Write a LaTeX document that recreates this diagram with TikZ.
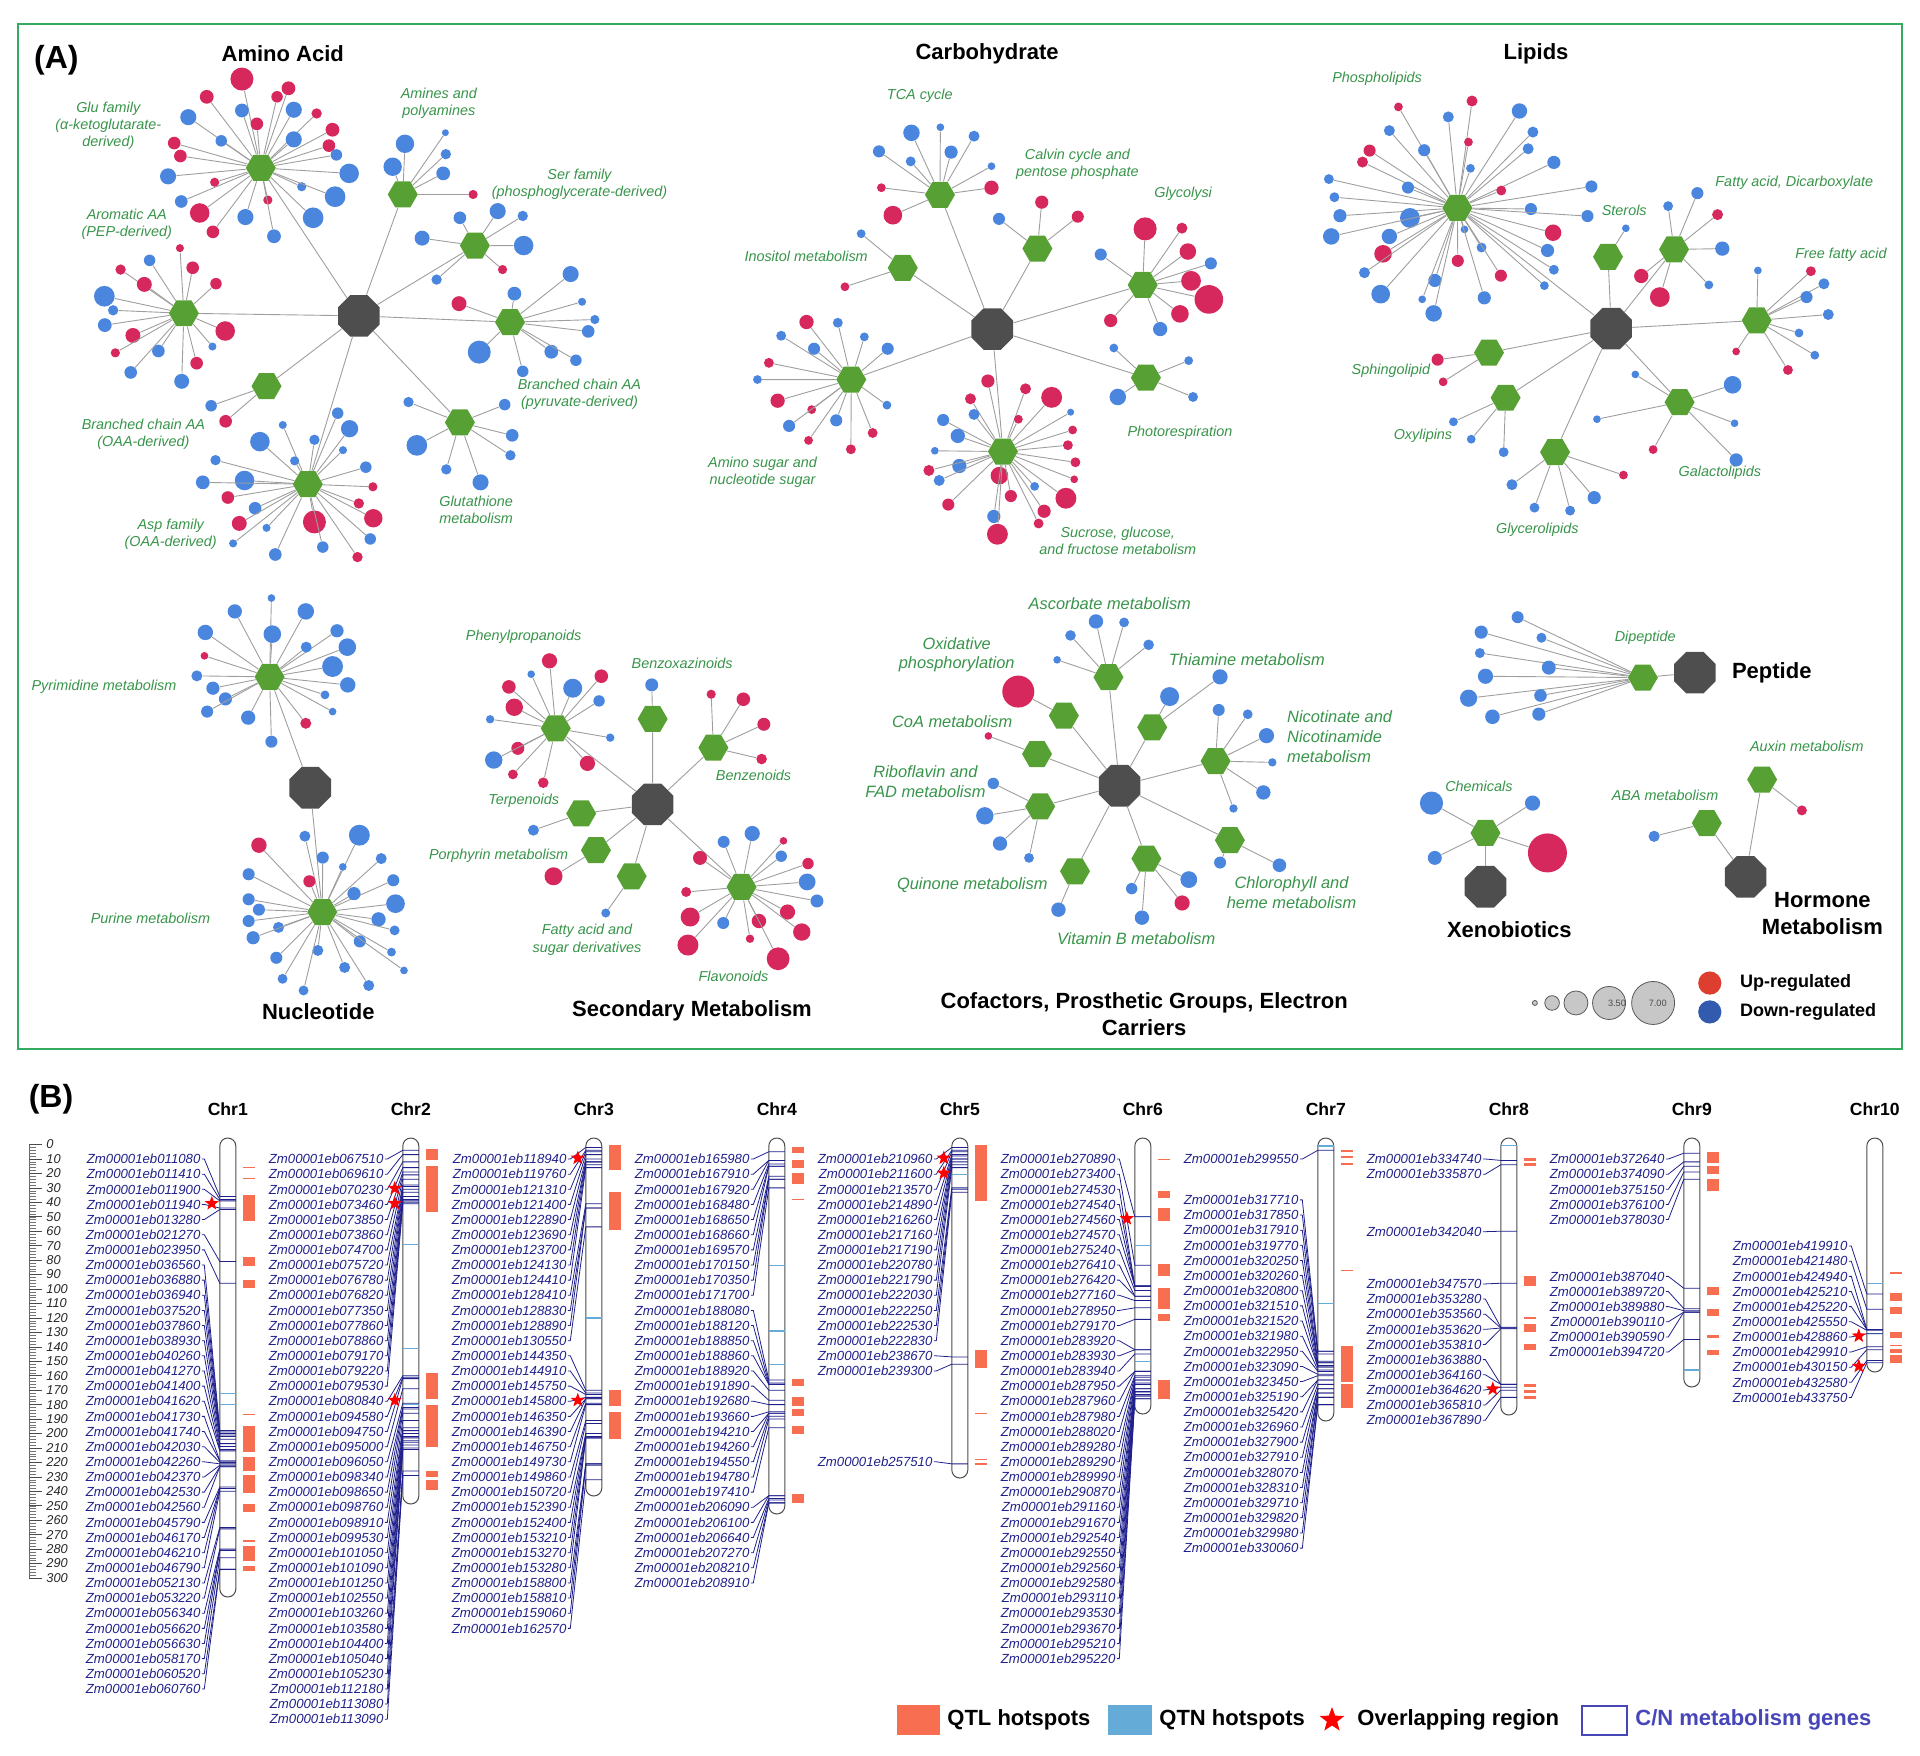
\documentclass[tikz,border=0pt]{standalone}
\usepackage{fontspec}
\setmainfont{Liberation Sans}
\usetikzlibrary{shapes.geometric}

\definecolor{upc}{RGB}{214,40,92}
\definecolor{dnc}{RGB}{74,134,222}
\definecolor{hexg}{RGB}{86,160,52}
\definecolor{hubg}{RGB}{78,78,78}
\definecolor{labg}{RGB}{56,148,74}
\definecolor{frameg}{RGB}{52,172,96}
\definecolor{navy}{RGB}{32,32,140}
\definecolor{qtlc}{RGB}{247,110,80}
\definecolor{qtnc}{RGB}{100,172,215}
\definecolor{uplg}{RGB}{222,62,48}
\definecolor{dnlg}{RGB}{50,90,175}
\definecolor{cng}{RGB}{70,70,185}

\begin{document}
\begin{tikzpicture}[x=0.5pt, y=-0.5pt,
  hub/.style={regular polygon, regular polygon sides=8, minimum size=22.5pt, inner sep=0pt, fill=hubg},
  hexa/.style={regular polygon, regular polygon sides=6, minimum size=15pt, inner sep=0pt, fill=hexg},
  leaf/.style={circle, inner sep=0pt, minimum size=#1*1pt},
  eg/.style={draw=black!38, line width=0.45pt},
  lab/.style={text=labg, font=\fontsize{7.2}{8.6}\selectfont\itshape, align=center, inner sep=1pt},
  blab/.style={text=labg, font=\fontsize{8.2}{9.8}\selectfont\itshape, align=center, inner sep=1pt},
  ttl/.style={font=\fontsize{11}{13.4}\selectfont\bfseries, align=center, inner sep=1pt},
  panel/.style={font=\fontsize{16}{18}\selectfont\bfseries, inner sep=0pt},
  chrom/.style={draw=black!70, fill=white, line width=0.5pt, rounded corners=4pt},
  chrname/.style={font=\fontsize{8.8}{10}\selectfont\bfseries, inner sep=0pt},
  gname/.style={anchor=east, text=navy, font=\fontsize{6.6}{7}\selectfont\itshape, inner sep=0.5pt},
  glink/.style={draw=navy, line width=0.4pt},
  qtn/.style={draw=qtnc, line width=0.6pt},
  ovl/.style={star, star points=5, star point ratio=2.4, fill=red, inner sep=0pt, minimum size=7.5pt},
  num/.style={anchor=west, font=\fontsize{6.4}{7}\selectfont\itshape, text=black!85, inner sep=0pt},
  lgt/.style={anchor=west, font=\fontsize{11}{13}\selectfont\bfseries, inner sep=0pt}]
\useasboundingbox (0,0) rectangle (1920,1755);

% ---------------- panel A ----------------
\draw[frameg, line width=1pt] (18,24) rectangle (1902,1049);

% amino acid
\begin{scope}[shift={(3.7,-0.5)}, xscale=0.4395, yscale=0.37]
  \node[panel] (pa) at (120,165) {(A)};
  \node[ttl] (t-aa) at (635,145) {Amino Acid};
  \node[hub] (aa) at (808,855) {};
  \node[hexa] (glu) at (585,455) {};
  \node[hexa] (amin) at (908,527) {};
  \node[hexa] (ser) at (1072,665) {};
  \node[hexa] (bcp) at (1152,872) {};
  \node[hexa] (gsh) at (1038,1143) {};
  \node[hexa] (asp) at (692,1310) {};
  \node[hexa] (bco) at (598,1045) {};
  \node[hexa] (aro) at (410,848) {};
  \foreach \h in {glu,amin,ser,bcp,gsh,asp,bco,aro} \draw[eg] (aa) -- (\h);
  \def\rf{1.15}
  \foreach \x/\y/\r/\c [count=\i] in {542/215/10/upc,462/263/6/upc,648/240/6/upc,622/263/5/upc,542/300/6/dnc,660/298/7/dnc,712/308/4.5/upc,420/318/7/dnc,576/336/5.5/upc,748/352/6/upc,495/382/5/dnc,660/378/7/dnc,740/395/5.5/upc,388/388/5.5/upc,402/423/5.5/upc,757/420/5/dnc,374/478/7/dnc,786/470/8.5/dnc,480/494/4/upc,678/506/4/dnc,404/546/5.5/dnc,754/533/9/dnc,601/542/4/upc,446/577/8.5/upc,550/588/7/dnc,704/590/9/dnc,476/628/5.5/upc,615/640/6/dnc}
    \node[leaf={\r*\rf}, fill=\c] (glu-\i) at (\x,\y) {} edge[eg] (glu);
  \foreach \x/\y/\r/\c [count=\i] in {913/390/8/dnc,885/452/8/dnc,1005/360/3/dnc,1006/418/4.5/dnc,1000/470/6/dnc,1068/527/4/upc}
    \node[leaf={\r*\rf}, fill=\c] (amin-\i) at (\x,\y) {} edge[eg] (amin);
  \foreach \x/\y/\r/\c [count=\i] in {1124/572/7/dnc,1038/590/5.5/dnc,1181/585/4.5/dnc,952/645/6.5/dnc,1183/665/8.5/dnc,985/757/4.5/dnc,1135/730/4/upc}
    \node[leaf={\r*\rf}, fill=\c] (ser-\i) at (\x,\y) {} edge[eg] (ser);
  \foreach \x/\y/\r/\c [count=\i] in {401/672/3.5/upc,332/705/5/dnc,266/730/4.5/upc,430/725/5.5/upc,320/770/6.5/upc,483/768/5/upc,229/802/9/dnc,249/840/4.5/dnc,504/896/8.5/upc,230/880/6/dnc,294/908/6.5/upc,254/955/4/upc,475/938/3.5/dnc,352/950/5.5/dnc,439/983/5.5/upc,289/1008/5.5/dnc,405/1032/6.5/dnc}
    \node[leaf={\r*\rf}, fill=\c] (aro-\i) at (\x,\y) {} edge[eg] (aro);
  \foreach \x/\y/\r/\c [count=\i] in {1290/742/7/dnc,1162/795/6/dnc,1036/822/6.5/upc,1316/817/3.5/dnc,1345/865/4/dnc,1330/897/5.5/dnc,1082/953/10/dnc,1246/952/6/dnc,1302/975/5/dnc,1181/1005/5/dnc}
    \node[leaf={\r*\rf}, fill=\c] (bcp-\i) at (\x,\y) {} edge[eg] (bcp);
  \foreach \x/\y/\r/\c [count=\i] in {472/1098/5/dnc,505/1140/5.5/upc}
    \node[leaf={\r*\rf}, fill=\c] (bco-\i) at (\x,\y) {} edge[eg] (bco);
  \foreach \x/\y/\r/\c [count=\i] in {921/1088/4.5/dnc,1140/1095/5/dnc,940/1205/9/dnc,1157/1178/5.5/dnc,1153/1232/4.5/dnc,1007/1270/4.5/dnc,1085/1305/7/dnc}
    \node[leaf={\r*\rf}, fill=\c] (gsh-\i) at (\x,\y) {} edge[eg] (gsh);
  \foreach \x/\y/\r/\c [count=\i] in {760/1118/5/dnc,635/1150/3.5/dnc,787/1160/7.5/dnc,583/1195/8.5/dnc,707/1190/4.5/dnc,772/1218/3.5/dnc,662/1247/4/dnc,482/1245/4.5/dnc,824/1264/5/dnc,548/1300/8.5/dnc,453/1305/6/dnc,840/1317/4/upc,510/1346/5.5/upc,572/1375/5.5/dnc,808/1362/4.5/upc,841/1402/8/upc,536/1416/6.5/upc,707/1412/10/upc,598/1428/3.5/dnc,834/1458/5/dnc,522/1470/3.5/dnc,726/1480/5/dnc,618/1500/5.5/dnc,805/1507/4.5/upc}
    \node[leaf={\r*\rf}, fill=\c] (asp-\i) at (\x,\y) {} edge[eg] (asp);
  \node[lab] (t-glu) at (238,342) {Glu family\\(α-ketoglutarate-\\derived)};
  \node[lab] (t-amin) at (990,280) {Amines and\\polyamines};
  \node[lab] (t-ser) at (1310,500) {Ser family\\(phosphoglycerate-derived)};
  \node[lab] (t-aro) at (280,608) {Aromatic AA\\(PEP-derived)};
  \node[lab] (t-bcp) at (1310,1068) {Branched chain AA\\(pyruvate-derived)};
  \node[lab] (t-bco) at (318,1175) {Branched chain AA\\(OAA-derived)};
  \node[lab] (t-gsh) at (1075,1380) {Glutathione\\metabolism};
  \node[lab] (t-asp) at (380,1446) {Asp family\\(OAA-derived)};
\end{scope}

% carbohydrate
\begin{scope}[shift={(700,0)}, xscale=0.396, yscale=0.371]
  \node[ttl] (t-carb) at (725,145) {Carbohydrate};
  \node[hub] (carb) at (738,887) {};
  \node[hexa] (tca) at (606,525) {};
  \node[hexa] (calv) at (852,670) {};
  \node[hexa] (ino) at (512,722) {};
  \node[hexa] (glyc) at (1118,768) {};
  \node[hexa] (phot) at (1126,1018) {};
  \node[hexa] (amsu) at (382,1023) {};
  \node[hexa] (sucr) at (765,1217) {};
  \foreach \h in {tca,calv,ino,glyc,phot,amsu,sucr} \draw[eg] (carb) -- (\h);
  \def\rf{1.1}
  \foreach \x/\y/\r/\c [count=\i] in {534/358/7.5/dnc,607/343/3.5/dnc,692/367/5/dnc,452/408/5.5/dnc,634/410/6/dnc,532/435/4.5/dnc,736/448/3.5/dnc,458/506/4/upc,736/506/6.5/upc,487/580/8.5/upc}
    \node[leaf={\r*\rf}, fill=\c] (tca-\i) at (\x,\y) {} edge[eg] (tca);
  \foreach \x/\y/\r/\c [count=\i] in {863/545/6/upc,755/590/5.5/dnc,954/584/5.5/upc}
    \node[leaf={\r*\rf}, fill=\c] (calv-\i) at (\x,\y) {} edge[eg] (calv);
  \foreach \x/\y/\r/\c [count=\i] in {407/630/4/dnc,366/773/4/upc}
    \node[leaf={\r*\rf}, fill=\c] (ino-\i) at (\x,\y) {} edge[eg] (ino);
  \foreach \x/\y/\r/\c [count=\i] in {1124/617/10.5/upc,1012/686/5.5/dnc,1217/615/5/upc,1232/678/7.5/upc,1290/710/5.5/dnc,1240/757/9/upc,1285/807/13/upc,1037/864/6/upc,1212/846/8/upc,1162/887/6.5/dnc}
    \node[leaf={\r*\rf}, fill=\c] (glyc-\i) at (\x,\y) {} edge[eg] (glyc);
  \foreach \x/\y/\r/\c [count=\i] in {1045/938/4/dnc,1234/972/4/dnc,1055/1070/7.5/dnc,1245/1070/4.5/dnc}
    \node[leaf={\r*\rf}, fill=\c] (phot-\i) at (\x,\y) {} edge[eg] (phot);
  \foreach \x/\y/\r/\c [count=\i] in {269/868/6.5/upc,348/870/4.5/dnc,205/905/4.5/dnc,415/908/4/dnc,288/940/5.5/dnc,474/940/5.5/dnc,174/978/4.5/upc,145/1023/4/dnc,196/1080/6.5/upc,282/1104/4/upc,472/1092/4/dnc,225/1148/5.5/dnc,344/1133/5.5/dnc,436/1167/4.5/upc,274/1187/4/upc,381/1211/4.5/upc}
    \node[leaf={\r*\rf}, fill=\c] (amsu-\i) at (\x,\y) {} edge[eg] (amsu);
  \foreach \x/\y/\r/\c [count=\i] in {727/1027/6/upc,822/1048/5/upc,888/1071/9.5/upc,683/1075/5/upc,692/1117/5/dnc,804/1130/4/upc,614/1132/5.5/dnc,936/1111/3.2/dnc,651/1175/6.5/dnc,941/1159/4/upc,593/1215/3.5/dnc,929/1200/4.5/upc,655/1256/6.5/dnc,948/1246/4.5/upc,578/1268/5/upc,756/1282/8/upc,945/1292/3.5/upc,604/1295/5/dnc,845/1311/4/dnc,785/1337/5.5/upc,924/1343/9.5/upc,627/1360/5.5/upc,869/1378/6/upc,742/1392/6/dnc,855/1411/4.5/upc,751/1440/9.5/upc}
    \node[leaf={\r*\rf}, fill=\c] (sucr-\i) at (\x,\y) {} edge[eg] (sucr);
  \node[lab] (t-tca) at (555,258) {TCA cycle};
  \node[lab] (t-calv) at (953,442) {Calvin cycle and\\pentose phosphate};
  \node[lab] (t-ino) at (268,692) {Inositol metabolism};
  \node[lab] (t-glyc) at (1220,522) {Glycolysi};
  \node[lab] (t-phot) at (1212,1167) {Photorespiration};
  \node[lab] (t-amsu) at (158,1272) {Amino sugar and\\nucleotide sugar};
  \node[lab] (t-sucr) at (1055,1457) {Sucrose, glucose,\\and fructose metabolism};
\end{scope}

% lipids
\begin{scope}[shift={(1300,0)}, xscale=0.3954, yscale=0.37]
  \node[ttl] (t-lip) at (597,145) {Lipids};
  \node[hub] (lip) at (787,888) {};
  \node[hexa] (phos) at (398,562) {};
  \node[hexa] (ster) at (779,694) {};
  \node[hexa] (fadc) at (946,674) {};
  \node[hexa] (ffa) at (1155,866) {};
  \node[hexa] (sphi) at (478,953) {};
  \node[hexa] (oxyl) at (520,1075) {};
  \node[hexa] (gala) at (960,1087) {};
  \node[hexa] (glyl) at (645,1222) {};
  \foreach \h in {phos,ster,fadc,ffa,sphi,oxyl,gala,glyl} \draw[eg] (lip) -- (\h);
  \def\rf{1.1}
  \foreach \x/\y/\r/\c [count=\i] in {249/289/4/upc,435/273/5/upc,375/316/5/dnc,555/300/7/dnc,226/353/5/dnc,589/357/5/dnc,426/384/4/upc,314/406/5.5/dnc,176/407/5.5/upc,577/402/5/dnc,158/438/5/upc,642/439/6/dnc,431/455/4/dnc,73/484/4.5/dnc,273/507/5.5/dnc,509/515/4.5/upc,737/504/5.5/dnc,87/533/4.5/dnc,584/565/5.5/dnc,101/583/6/dnc,278/589/9/dnc,727/584/5.5/dnc,640/629/7.5/upc,79/639/7.5/dnc,226/639/7/dnc,416/620/3.5/dnc,459/669/4.5/dnc,626/677/6/dnc,210/686/8/upc,399/705/5.5/upc,642/729/4.5/dnc,163/737/5/dnc,508/745/5.5/upc,341/758/6/dnc,618/772/4/dnc,204/795/8.5/dnc,309/809/3.5/dnc,466/805/6/dnc,338/847/7.5/dnc}
    \node[leaf={\r*\rf}, fill=\c] (phos-\i) at (\x,\y) {} edge[eg] (phos);
  \node[leaf={3.5*\rf}, fill=dnc] (ster-1) at (824,617) {} edge[eg] (ster);
  \foreach \x/\y/\r/\c [count=\i] in {931/557/4.5/dnc,1005/522/5.5/dnc,1056/580/5/upc,1068/672/6.5/dnc,863/746/6.5/upc,910/803/9/upc,1034/770/4/dnc}
    \node[leaf={\r*\rf}, fill=\c] (fadc-\i) at (\x,\y) {} edge[eg] (fadc);
  \foreach \x/\y/\r/\c [count=\i] in {1158/731/3.5/dnc,1292/733/4.5/upc,1325/767/5/dnc,1281/803/5.5/dnc,1336/850/5/dnc,1262/900/4/dnc,1103/950/3.5/upc,1302/960/4/dnc,1234/1000/4.5/upc}
    \node[leaf={\r*\rf}, fill=\c] (ffa-\i) at (\x,\y) {} edge[eg] (ffa);
  \foreach \x/\y/\r/\c [count=\i] in {348/972/5.5/upc,362/1032/4/upc}
    \node[leaf={\r*\rf}, fill=\c] (sphi-\i) at (\x,\y) {} edge[eg] (sphi);
  \foreach \x/\y/\r/\c [count=\i] in {388/1140/4/dnc,433/1187/4/dnc,515/1222/4.5/dnc}
    \node[leaf={\r*\rf}, fill=\c] (oxyl-\i) at (\x,\y) {} edge[eg] (oxyl);
  \foreach \x/\y/\r/\c [count=\i] in {848/1012/3.5/dnc,1094/1040/8/dnc,751/1133/3.5/dnc,1099/1144/3.5/dnc,893/1215/4/upc,1103/1243/6/dnc}
    \node[leaf={\r*\rf}, fill=\c] (gala-\i) at (\x,\y) {} edge[eg] (gala);
  \foreach \x/\y/\r/\c [count=\i] in {818/1284/4/upc,536/1310/5/dnc,744/1345/6/dnc,593/1372/4.5/dnc,683/1380/4.5/dnc}
    \node[leaf={\r*\rf}, fill=\c] (glyl-\i) at (\x,\y) {} edge[eg] (glyl);
  \node[lab] (t-phos) at (195,214) {Phospholipids};
  \node[lab] (t-ster) at (820,568) {Sterols};
  \node[lab] (t-fadc) at (1250,494) {Fatty acid, Dicarboxylate};
  \node[lab] (t-ffa) at (1368,688) {Free fatty acid};
  \node[lab] (t-sphi) at (230,1002) {Sphingolipid};
  \node[lab] (t-oxyl) at (311,1178) {Oxylipins};
  \node[lab] (t-gala) at (1062,1278) {Galactolipids};
  \node[lab] (t-glyl) at (600,1432) {Glycerolipids};
\end{scope}

% nucleotide and secondary metabolism
\begin{scope}[shift={(0,578)}, xscale=0.4464, yscale=0.334]
  \node[ttl] (t-nuc) at (713,1297) {Nucleotide};
  \node[hub] (nuc) at (695,628) {};
  \node[hexa] (pyri) at (604,296) {};
  \node[hexa] (puri) at (722,1000) {};
  \draw[eg] (nuc) -- (pyri) (nuc) -- (puri);
  \def\rf{1.1}
  \foreach \x/\y/\r/\c [count=\i] in {608/60/3.5/dnc,526/100/6.5/dnc,685/100/7.5/dnc,460/163/7/dnc,610/168/8/dnc,755/158/6/dnc,778/207/8/dnc,686/207/5/dnc,458/233/3.5/upc,745/265/9.5/dnc,441/293/5/dnc,779/320/7/dnc,477/330/6/dnc,505/362/6/dnc,728/350/4/dnc,464/400/5.5/dnc,556/418/6.5/dnc,745/400/3.5/dnc,685/435/5/upc,608/490/5.5/dnc}
    \node[leaf={\r*\rf}, fill=\c] (pyri-\i) at (\x,\y) {} edge[eg] (pyri);
  \foreach \x/\y/\r/\c [count=\i] in {580/800/7/upc,683/773/5/dnc,805/770/9.5/dnc,723/837/5.5/dnc,854/840/5/dnc,768/865/3.5/dnc,557/887/5.5/dnc,693/908/5.5/upc,881/905/5.5/dnc,793/945/6/dnc,557/962/5.5/dnc,886/975/8.5/dnc,580/993/5.5/dnc,557/1027/5.5/dnc,624/1046/5/dnc,848/1022/6.5/dnc,884/1055/4.5/dnc,567/1077/6/dnc,806/1088/5.5/dnc,712/1115/5/dnc,877/1120/4/dnc,619/1137/5.5/dnc,772/1166/5/dnc,905/1175/3.5/dnc,633/1200/4.5/dnc,826/1220/5/dnc,680/1235/4.5/dnc}
    \node[leaf={\r*\rf}, fill=\c] (puri-\i) at (\x,\y) {} edge[eg] (puri);
  \node[lab] (t-pyri) at (233,325) {Pyrimidine metabolism};
  \node[lab] (t-puri) at (337,1020) {Purine metabolism};
  % secondary metabolism
  \node[hub] (sec) at (1462,678) {};
  \node[hexa] (phen) at (1245,450) {};
  \node[hexa] (benx) at (1462,422) {};
  \node[hexa] (terp) at (1302,705) {};
  \node[hexa] (porp) at (1335,815) {};
  \node[hexa] (fasd) at (1415,893) {};
  \foreach \h in {phen,benx,terp,porp,fasd} \draw[eg] (sec) -- (\h);
  \foreach \x/\y/\r/\c [count=\i] in {1231/248/7.6/upc,1190/288/3.8/dnc,1347/294/6.8/upc,1140/326/6.8/upc,1283/330/9.5/dnc,1152/387/8.7/upc,1342/368/5.7/dnc,1098/423/4.2/dnc,1367/478/4.2/dnc,1160/510/6.5/upc,1106/545/8.7/dnc,1316/555/7.6/upc,1149/588/4.9/upc,1217/613/5.3/upc}
    \node[leaf=\r, fill=\c] (phen-\i) at (\x,\y) {} edge[eg] (phen);
  \node[leaf=6.5, fill=dnc] (benx-1) at (1460,320) {} edge[eg] (benx);
  \node[leaf=5.5, fill=dnc] (terp-1) at (1195,755) {} edge[eg] (terp);
  \node[leaf=9, fill=upc] (porp-1) at (1240,893) {} edge[eg] (porp);
  \node[leaf=4.5, fill=dnc] (fasd-1) at (1357,1003) {} edge[eg] (fasd);
  \node[lab] (t-phen) at (1173,175) {Phenylpropanoids};
  \node[lab] (t-benx) at (1528,257) {Benzoxazinoids};
  \node[lab] (t-terp) at (1173,668) {Terpenoids};
  \node[lab] (t-porp) at (1117,831) {Porphyrin metabolism};
  \node[lab] (t-fasd) at (1315,1083) {Fatty acid and\\sugar derivatives};
\end{scope}
\node[ttl] (t-sec) at (692,1011) {Secondary Metabolism};

% cofactors
\begin{scope}[shift={(700,578)}, xscale=0.4464, yscale=0.334]
  \node[hexa] (benz) at (30,508) {};
  \node[hexa] (flav) at (93,925) {};
  \draw[eg] (sec) -- (benz) (sec) -- (flav);
  \foreach \x/\y/\r/\c [count=\i] in {25/348/4.6/upc,97/363/6.8/upc,143/438/6.5/upc,138/542/5.3/upc}
    \node[leaf=\r, fill=\c] (benz-\i) at (\x,\y) {} edge[eg] (benz);
  \foreach \x/\y/\r/\c [count=\i] in {117/765/7.6/dnc,53/790/6/dnc,187/787/3.8/upc,182/833/5.7/dnc,242/855/5.7/upc,240/910/8.4/dnc,262/967/6.5/dnc,196/1000/7.6/upc,132/1027/7.2/upc,52/1033/6/dnc,228/1060/8.7/upc,112/1080/4.2/upc,175/1140/11.4/upc,0/838/7/upc,-31/940/5/upc,-22/1015/9.5/upc,-27/1099/10.5/upc}
    \node[leaf=\r, fill=\c] (flav-\i) at (\x,\y) {} edge[eg] (flav);
  \node[lab] (t-benz) at (120,592) {Benzenoids};
  \node[lab] (t-flav) at (75,1193) {Flavonoids};
  \node[ttl] (t-cof) at (995,1305) {Cofactors, Prosthetic Groups, Electron\\Carriers};
  \node[hub] (cof) at (940,622) {};
  \node[hexa] (asco) at (915,297) {};
  \node[hexa] (thia) at (1013,447) {};
  \node[hexa] (nico) at (1155,548) {};
  \node[hexa] (chlo) at (1187,785) {};
  \node[hexa] (vitb) at (1000,840) {};
  \node[hexa] (quin) at (840,878) {};
  \node[hexa] (ribo) at (762,684) {};
  \node[hexa] (coa) at (755,527) {};
  \node[hexa] (oxph) at (815,412) {};
  \foreach \h in {asco,thia,nico,chlo,vitb,quin,ribo,coa,oxph} \draw[eg] (cof) -- (\h);
  \foreach \x/\y/\r/\c [count=\i] in {887/130/7.2/dnc,950/133/4.9/dnc,830/172/5.3/dnc,1005/200/5.3/dnc,800/245/3.8/dnc}
    \node[leaf=\r, fill=\c] (asco-\i) at (\x,\y) {} edge[eg] (asco);
  \foreach \x/\y/\r/\c [count=\i] in {1052/355/9.5/dnc,1165/296/7.6/dnc}
    \node[leaf=\r, fill=\c] (thia-\i) at (\x,\y) {} edge[eg] (thia);
  \foreach \x/\y/\r/\c [count=\i] in {1162/395/6/dnc,1227/408/4.9/dnc,1269/472/7.6/dnc,1282/552/4.2/dnc,1262/642/7.2/dnc,1195/690/4.2/dnc}
    \node[leaf=\r, fill=\c] (nico-\i) at (\x,\y) {} edge[eg] (nico);
  \foreach \x/\y/\r/\c [count=\i] in {1165/852/6/dnc,1298/860/6.8/dnc}
    \node[leaf=\r, fill=\c] (chlo-\i) at (\x,\y) {} edge[eg] (chlo);
  \foreach \x/\y/\r/\c [count=\i] in {1095/903/8.4/dnc,967/930/5.7/dnc,1080/973/7.6/upc,990/1017/7.2/dnc}
    \node[leaf=\r, fill=\c] (vitb-\i) at (\x,\y) {} edge[eg] (vitb);
  \node[leaf=7.2, fill=dnc] (quin-1) at (803,993) {} edge[eg] (quin);
  \foreach \x/\y/\r/\c [count=\i] in {657/615/5.7/dnc,638/712/8.7/dnc,672/795/7.2/dnc,737/838/4.9/dnc}
    \node[leaf=\r, fill=\c] (ribo-\i) at (\x,\y) {} edge[eg] (ribo);
  \node[leaf=3.8, fill=upc] (coa-1) at (646,473) {} edge[eg] (coa);
  \node[leaf=16, fill=upc] (oxph-1) at (713,340) {} edge[eg] (oxph);
  \node[blab] (t-asco) at (918,78) {Ascorbate metabolism};
  \node[blab] (t-oxph) at (575,230) {Oxidative\\phosphorylation};
  \node[blab] (t-thia) at (1225,243) {Thiamine metabolism};
  \node[blab] (t-coa) at (565,430) {CoA metabolism};
  \node[blab, anchor=west, align=left] (t-nico) at (1310,475) {Nicotinate and\\Nicotinamide\\metabolism};
  \node[blab] (t-ribo) at (505,610) {Riboflavin and\\FAD metabolism};
  \node[blab] (t-quin) at (610,918) {Quinone metabolism};
  \node[blab] (t-chlo) at (1325,942) {Chlorophyll and\\heme metabolism};
  \node[blab] (t-vitb) at (977,1080) {Vitamin B metabolism};
\end{scope}

% peptide, xenobiotics, hormone, legend
\begin{scope}[shift={(1400,578)}, xscale=0.3313, yscale=0.332]
  \node[hub] (pept) at (890,285) {};
  \node[hexa] (dipe) at (733,300) {};
  \draw[eg] (pept) -- (dipe);
  \foreach \x/\y/\r [count=\i] in {355/118/6,245/163/6.6,427/180/5,241/226/5,449/270/7,258/296/7.6,207/362/8.6,424/354/6.3,279/418/7.3,419/410/6.6}
    \node[leaf=\r, fill=dnc] (dipe-\i) at (\x,\y) {} edge[eg] (dipe);
  \node[hub] (xeno) at (258,930) {};
  \node[hexa] (chem) at (258,768) {};
  \draw[eg] (xeno) -- (chem);
  \foreach \x/\y/\r/\c [count=\i] in {95/678/11.6/dnc,400/678/7.6/dnc,105/843/7/dnc,445/828/19.5/upc}
    \node[leaf=\r, fill=\c] (chem-\i) at (\x,\y) {} edge[eg] (chem);
  \node[hub] (horm) at (1043,900) {};
  \node[hexa] (aba) at (926,738) {};
  \node[hexa] (auxi) at (1093,607) {};
  \draw[eg] (horm) -- (aba) (horm) -- (auxi);
  \node[leaf=5.6, fill=dnc] (aba-1) at (767,778) {} edge[eg] (aba);
  \node[leaf=5, fill=upc] (auxi-1) at (1213,700) {} edge[eg] (auxi);
  \node[lab] (t-dipe) at (740,180) {Dipeptide};
  \node[lab] (t-chem) at (238,628) {Chemicals};
  \node[lab] (t-aba) at (800,655) {ABA metabolism};
  \node[lab] (t-auxi) at (1228,508) {Auxin metabolism};
  \node[ttl, anchor=west] (t-pept) at (995,285) {Peptide};
  \node[ttl] (t-xeno) at (330,1060) {Xenobiotics};
  \node[ttl] (t-horm) at (1275,1010) {Hormone\\Metabolism};
  % size legend
  \foreach \x/\r [count=\i] in {407/2.5,459/7.3,531/12,631/16.5,764/21.5}
    \node[leaf=\r, fill=black!22, draw=black!65, line width=0.4pt] (sz\i) at (\x,1280) {};
  \node[font=\fontsize{4.6}{5}\selectfont, text=black!70] (sz-t4) at (655,1280) {3.50};
  \node[font=\fontsize{4.6}{5}\selectfont, text=black!70] (sz-t5) at (778,1280) {7.00};
  \node[leaf=11.6, fill=uplg] (up-l) at (935,1220) {};
  \node[leaf=11.6, fill=dnlg] (dn-l) at (935,1307) {};
  \node[anchor=west, font=\fontsize{9}{11}\selectfont\bfseries] (t-up) at (1005,1220) {Up-regulated};
  \node[anchor=west, font=\fontsize{9}{11}\selectfont\bfseries] (t-dn) at (1005,1307) {Down-regulated};
\end{scope}

% ---------------- panel B ----------------
\node[panel] (pb) at (51,1099) {(B)};
% scale bar
\draw[black!60, line width=0.3pt] (29,1144.5) -- (29,1578);
\foreach \v in {0,2,...,300} \draw[black!55, line width=0.25pt] (29,{1144.5+1.445*\v}) -- ++(7,0);
\foreach \v in {0,10,...,300} {
  \draw[black!70, line width=0.3pt] (29,{1144.5+1.445*\v}) -- ++(13,0);
  \node[num] (sc\v) at (46,{1144.5+1.445*\v}) {\v};
}
% chromosomes: number / centre / bottom / QTN / QTL / genes (id/row/position)
\foreach \k/\cx/\bot/\qtn/\qtl/\genes in {
1/227.8/1597/{172.5,180}/{15.5/16.5,23/24,35/53,78/84,94/99,186.5/187.5,195/213,216/226,229/241,249/254,274/275,277.5/288,292/295}/{011080/0/36,011410/1/38,011900/2/39,011940/3/44,013280/4/45,021270/5/81,023950/6/96,036560/7/198,036880/8/199,036940/9/200,037520/10/201,037860/11/202,038930/12/204,040260/13/207,041270/14/209,041400/15/211,041620/16/212,041730/17/219,041740/18/219,042030/19/220,042260/20/221,042370/21/222,042530/22/223,042560/23/223,045790/24/237,046170/25/238,046210/26/238,046790/27/240,052130/28/265,053220/29/266,056340/30/280,056620/31/281,056630/32/281,058170/33/286,060520/34/294,060760/35/294},
2/410.8/1504/{69,141,180}/{3/11,15/47,158/176,180/209,226/230,232/239}/{067510/0/4,069610/1/7,070230/2/12,073460/3/16,073850/4/19,073860/5/21,074700/6/24,075720/7/28,076780/8/29,076820/9/31,077350/10/33,077860/11/36,078860/12/38,079170/13/39,079220/14/40,079530/15/41,080840/16/160,094580/17/161,094750/18/162,095000/19/169,096050/20/179,098340/21/182,098650/22/183,098760/23/186,098910/24/191,099530/25/196,101050/26/198,101090/27/200,101250/28/202,102550/29/203,103260/30/205,103580/31/206,104400/32/208,105040/33/210,105230/34/211,112180/35/226,113080/36/229,113090/37/229},
3/593.8/1496/{120}/{0/17.5,33/59,170/181,185/204}/{118940/0/2,119760/1/4,121310/2/5,121400/3/7,122890/4/10,123690/5/12,123700/6/12,124130/7/14,124410/8/16,128410/9/41,128830/10/44,128890/11/44,130550/12/57,144350/13/170,144910/14/172,145750/15/173,145800/16/175,146350/17/176,146390/18/176,146750/19/179,149730/20/180,149860/21/191,150720/22/193,152390/23/200,152400/24/200,153210/25/202,153270/26/203,153280/27/203,158800/28/221,158810/29/221,159060/30/222,162570/31/232},
4/776.8/1514/{84,129,152}/{1.5/6,11/16,20/27,37.5/38.5,162/167,175/181,183/188,195/200,242/248}/{165980/0/5,167910/1/11,167920/2/11,168480/3/13.5,168650/4/15,168660/5/15,169570/6/22,170150/7/24,170350/8/24,171700/9/30,188080/10/163,188120/11/165,188850/12/166,188860/13/166,188920/14/170,191890/15/177,192680/16/180,193660/17/185,194210/18/186,194260/19/186,194550/20/188,194780/21/190,197410/22/196,206090/23/243,206100/24/243,206640/25/245,207270/26/246,208210/27/248,208910/28/248},
5/959.8/1478/{21}/{0/39,142/155,185.5/186.5,217.5/218.5,220.5/221.5}/{210960/0/2,211600/1/4,213570/2/5,214890/3/7,216260/4/8,217160/5/10,217190/6/10,220780/7/12,221790/8/14,222030/9/16,222250/10/30,222530/11/31,222830/12/33,238670/13/147,239300/14/152,257510/20/221},
6/1142.8/1414/{50,70,150}/{10/11,32/37,44/53,83/91,99/114,117/122,163/176}/{270890/0/50,273400/1/83.5,274530/2/98,274540/3/98,274560/4/98,274570/5/98,275240/6/101,276410/7/105,276420/8/105,277160/9/108,278950/10/113,279170/11/121,283920/12/142,283930/13/142,283940/14/145,287950/15/157,287960/16/157,287980/17/160,288020/18/161,289280/19/163,289290/20/163,289990/21/165,290870/22/166,291160/23/169,291670/24/169,292540/25/171,292550/26/171,292560/27/171,292580/28/171,293110/29/173,293530/30/174,293670/31/174,295210/32/176,295220/33/176},
7/1325.8/1421/{1,110}/{3.5/5,8/9.5,12.5/14,86.5/87.5,139.5/164.5,166/182}/{299550/0/4,317710/2.7/143,317850/3.7/143,317910/4.7/145,319770/5.7/150,320250/6.7/151,320260/7.7/151,320800/8.7/153,321510/9.7/154,321520/10.7/154,321980/11.7/156,322950/12.7/157,323090/13.7/159,323450/14.7/160,325190/15.7/163,325420/16.7/163,326960/17.7/166,327900/18.7/169,327910/19.7/169,328070/20.7/172,328310/21.7/172,329710/22.7/175,329820/23.7/175,329980/24.7/180,330060/25.7/180},
8/1508.8/1415/{0.6}/{9.5/11.5,13/15,91/98,119.5/120.5,124/130,138/142,166/168,170/172,174/176}/{334740/0/11,335870/1/14,342040/4.8/60,347570/8.25/96,353280/9.25/126.5,353560/10.25/127,353620/11.25/127,353810/12.25/127.5,363880/13.25/166,364160/14.25/166,364620/15.25/168,365810/16.25/170,367890/17.25/175},
9/1691.8/1387/{156}/{5/13,15/20.5,24/32,98.5/104,113.6/119,132/134,142/146}/{372640/0/6,374090/1/12,375150/2/15,376100/3/19,378030/4/24,387040/7.75/99.5,389720/8.75/113.6,389880/9.75/115,390110/10.75/116,390590/11.75/116,394720/12.75/135},
10/1874.8/1372/{96,131}/{88/89.5,102.8/108,112.6/117,129.6/133.6,138.5/139.5,141.5/144,146/151}/{419910/5.75/103.5,421480/6.75/114,424940/7.75/128,425210/8.75/128,425220/9.75/128,425550/10.75/128.6,428860/11.75/131,429910/12.75/140,430150/13.75/142,432580/14.75/149.5,433750/15.75/151}}
{
  \node[chrname] (chr\k) at (\cx,1109) {Chr\k};
  \draw[chrom] ({\cx-8},1138) rectangle ({\cx+8},\bot);
  \foreach \q in \qtn \draw[qtn] ({\cx-8},{1144.5+1.445*\q}) -- ++(16,0);
  \foreach \a/\b in \qtl \fill[qtlc] ({\cx+15},{1144.5+1.445*\a}) rectangle ({\cx+27},{1144.5+1.445*\b});
  \foreach \g/\r/\v [count=\i] in \genes {
    \node[gname] (c\k-\i) at ({\cx-26},{1159+15.14*\r}) {Zm00001eb\g};
    \coordinate (g\k-\i) at ({\cx-8},{1144.5+1.445*\v});
    \draw[glink] (c\k-\i.east) -- ++(2.5,0) -- (g\k-\i) -- ++(16,0);
  }
}
% overlapping regions
\foreach \k/\r [count=\n] in {1/3,2/2,2/3,2/16,3/0,3/16,5/0,5/1,6/4,8/15.25,10/11.75,10/13.75}
  \node[ovl] (ov\n) at ({227.8+183*(\k-1)-16},{1158+15.14*\r}) {};

% legend of panel B
\fill[qtlc] (897,1705) rectangle (940,1735);
\node[lgt] (l-qtl) at (947,1720) {QTL hotspots};
\fill[qtnc] (1108,1705) rectangle (1152,1735);
\node[lgt] (l-qtn) at (1159,1720) {QTN hotspots};
\node[ovl, minimum size=13pt] (l-star) at (1332,1720) {};
\node[lgt] (l-ovl) at (1357,1720) {Overlapping region};
\draw[cng, line width=0.8pt] (1582,1706) rectangle (1627,1735);
\node[lgt, text=cng] (l-cn) at (1635,1720) {C/N metabolism genes};
\end{tikzpicture}
\end{document}
